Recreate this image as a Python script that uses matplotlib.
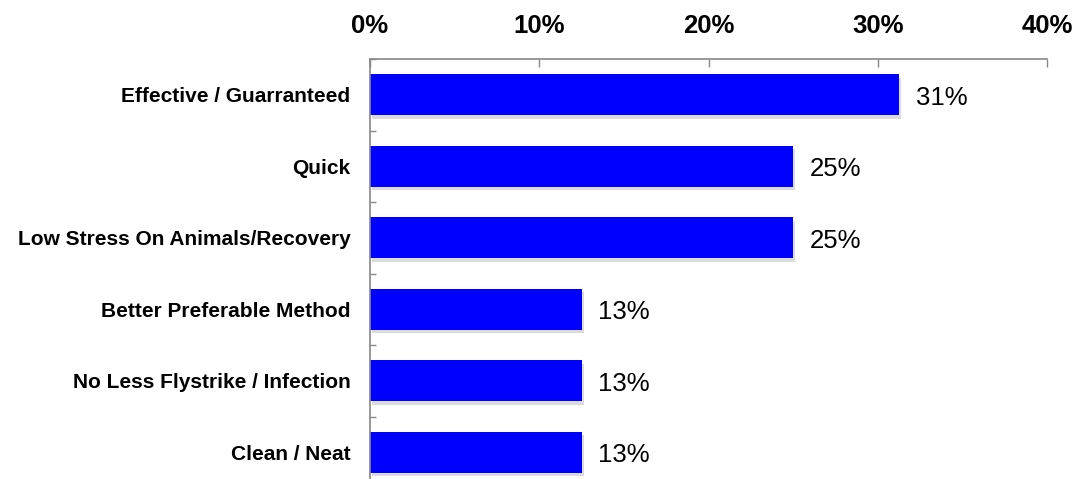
import matplotlib
matplotlib.use("Agg")
import matplotlib.pyplot as plt
import matplotlib.patheffects as pe
from matplotlib.ticker import FixedLocator, PercentFormatter

categories = [
    "Effective / Guarranteed",
    "Quick",
    "Low Stress On Animals/Recovery",
    "Better Preferable Method",
    "No Less Flystrike / Infection",
    "Clean / Neat",
]
values = [31.25, 25.0, 25.0, 12.5, 12.5, 12.5]
value_labels = ["31%", "25%", "25%", "13%", "13%", "13%"]
x_ticks = [0, 10, 20, 30, 40]

plt.rcParams["font.family"] = ["Liberation Sans", "DejaVu Sans"]

fig = plt.figure(figsize=(10.84, 4.79), dpi=100)
ax = fig.add_axes([370 / 1084, -9 / 479, (1047 - 370) / 1084, (488 - 59) / 479])

pos = list(range(len(categories)))
bars = ax.barh(pos, values, height=0.57, color="#0000FF", zorder=2)
# soft drop shadow like the original
for b in bars:
    b.set_path_effects([pe.SimplePatchShadow(offset=(1.5, -2.5), shadow_rgbFace="#999999", alpha=0.35),
                        pe.Normal()])

for p, v, lab in zip(pos, values, value_labels):
    ax.text(v + 1.0, p + 0.04, lab, va="center", ha="left", fontsize=18.5, color="black")

ax.set_xlim(0, 40)
ax.set_ylim(len(categories) - 0.5, -0.5)
ax.xaxis.set_major_locator(FixedLocator(x_ticks))
ax.xaxis.set_major_formatter(PercentFormatter(decimals=0))
ax.xaxis.tick_top()
ax.tick_params(axis="x", direction="in", length=6, width=1, color="#888888",
               labelsize=18.5, pad=15)
for t in ax.get_xticklabels():
    t.set_fontweight("bold")

ax.set_yticks(pos)
ax.set_yticklabels(categories, fontsize=15, fontweight="bold")
ax.set_yticks([p + 0.5 for p in pos[:-1]] + [-0.5], minor=True)
ax.tick_params(axis="y", which="both", direction="in", length=4, width=1,
               color="#888888", pad=14)

for side in ["right", "bottom"]:
    ax.spines[side].set_visible(False)
for side in ["top", "left"]:
    ax.spines[side].set_color("#888888")
    ax.spines[side].set_linewidth(1.2)
    ax.spines[side].set_zorder(3)

fig.savefig("out.png", dpi=100)
